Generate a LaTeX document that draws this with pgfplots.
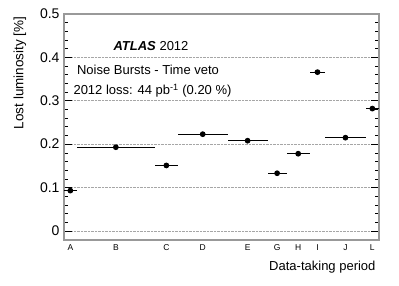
\documentclass[border=0pt]{standalone}
\usepackage{pgfplots}
\pgfplotsset{compat=1.18}
\usepackage{fontspec}
\setmainfont{Liberation Sans}
\begin{document}
\begin{tikzpicture}[x=1pt,y=1pt]
\path[use as bounding box] (0,0) rectangle (399,286);
\begin{axis}[
  at={(64pt,46pt)}, anchor=south west,
  scale only axis, width=315pt, height=226pt,
  xmin=0, xmax=315, ymin=-0.0208, ymax=0.5,
  xtick={6.35,51.85,102.35,138.7,183.6,213.1,234.2,253.45,281.45,308.35},
  xticklabels={A,B,C,D,E,G,H,I,J,L},
  major x tick style={draw=none},
  xticklabel style={font=\fontsize{8.5}{8.5}\selectfont, yshift=-1pt},
  ytick={0,0.1,0.2,0.3,0.4,0.5},
  yticklabels={0,0.1,0.2,0.3,0.4,0.5},
  minor y tick num=4,
  ytick pos=both,
  yticklabel style={font=\fontsize{14}{14}\selectfont, xshift=-1pt},
  major tick length=8pt, minor tick length=4pt,
  tick style={black, line width=0.7pt},
  axis line style={gray!80, line width=1.6pt},
  ymajorgrids,
  grid style={densely dotted, gray!70, line width=0.6pt},
  /pgf/number format/assume math mode=true,
  clip=false,
]
\addplot[black, line width=0.9pt, mark=*, mark size=2.4pt, only marks,
  error bars/.cd, x dir=both, x explicit, error bar style={line width=0.9pt, black}, error mark=none]
  table[x=x, y=y, x error=ex] {
x       y      ex
6.35    0.093  6.35
51.85   0.193  39.15
102.35  0.151  11.35
138.7   0.223  25.0
183.6   0.208  19.9
213.1   0.133  9.6
234.2   0.178  11.5
253.45  0.366  7.75
281.45  0.215  20.25
308.35  0.282  6.65
};
\node[font=\fontsize{13}{13}\selectfont] at (axis cs:87,0.426) {\textbf{\textit{ATLAS}} 2012};
\node[font=\fontsize{13}{13}\selectfont] at (axis cs:84,0.371) {Noise Bursts - Time veto};
\node[font=\fontsize{13}{13}\selectfont] at (axis cs:88.5,0.323) {2012 loss: 44 pb\textsuperscript{-1} (0.20 \%)};
\end{axis}
\node[rotate=90, anchor=north east, font=\fontsize{13.5}{13.5}\selectfont] at (10pt,273pt) {Lost luminosity [\%]};
\node[anchor=south east, font=\fontsize{13}{13}\selectfont] at (379pt,9pt) {Data-taking period};
\end{tikzpicture}
\end{document}
